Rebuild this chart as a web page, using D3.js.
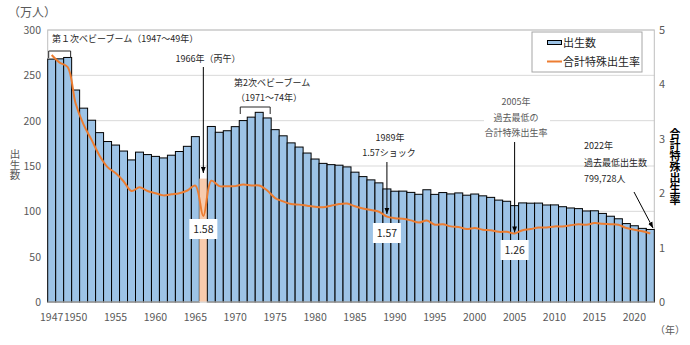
<!DOCTYPE html>
<html><head><meta charset="utf-8">
<script src="https://cdn.jsdelivr.net/npm/d3@7"></script>
<style>body{margin:0;background:#fff}svg{display:block;font-family:"Noto Sans CJK JP","Noto Sans",sans-serif}
.vt{writing-mode:vertical-rl;text-orientation:upright}</style>
</head><body><svg id="c" width="690" height="345"></svg>
<script>
const years = d3.range(1947, 2023);
const births = [267.9,268.2,269.7,233.8,213.8,200.5,186.8,177.0,173.1,166.5,
156.7,165.3,162.6,160.6,158.9,161.9,166.0,171.7,182.4,136.1,
193.6,187.2,188.9,193.4,200.1,203.9,209.2,203.0,190.1,183.3,
175.5,170.9,164.3,157.7,152.9,151.5,150.9,149.0,143.2,138.3,
134.7,131.4,124.7,122.2,122.3,120.9,118.8,123.8,118.7,120.7,
119.2,120.3,117.8,119.1,117.1,115.4,112.4,111.1,106.3,109.3,
109.0,109.1,107.0,107.1,105.1,103.7,103.0,100.4,100.6,97.7,
94.6,91.8,86.5,84.1,81.2,80.0];
const tfr = [4.54,4.40,4.32,3.65,3.26,2.98,2.69,2.48,2.37,2.22,
2.04,2.11,2.04,2.00,1.96,1.98,2.00,2.05,2.14,1.58,
2.23,2.13,2.13,2.13,2.16,2.14,2.14,2.05,1.91,1.85,
1.80,1.79,1.77,1.75,1.74,1.77,1.80,1.81,1.76,1.72,
1.69,1.66,1.57,1.54,1.53,1.50,1.46,1.50,1.42,1.43,
1.39,1.38,1.34,1.36,1.33,1.32,1.29,1.29,1.26,1.32,
1.34,1.37,1.37,1.39,1.39,1.41,1.43,1.42,1.45,1.44,
1.43,1.42,1.36,1.33,1.30,1.26];
const xTickYears = [1947,1950,1955,1960,1965,1970,1975,1980,1985,1990,1995,2000,2005,2010,2015,2020];
const leftTicks = [0,50,100,150,200,250,300];
const rightTicks = [0,1,2,3,4,5];
const highlightYear = 1966;

const svg = d3.select("#c");
const L = 47.7, R = 654.3, T = 30, B = 302;
const x = d3.scaleBand().domain(years).range([L, R]).padding(0);
const yL = d3.scaleLinear().domain([0,300]).range([B, T]);
const yR = d3.scaleLinear().domain([0,5]).range([B, T]);
const cx = yr => x(yr) + x.bandwidth()/2;

svg.append("defs").append("marker").attr("id","ah").attr("viewBox","0 0 10 10")
  .attr("refX",10).attr("refY",5).attr("markerWidth",6).attr("markerHeight",6)
  .attr("orient","auto-start-reverse").append("path").attr("d","M0,1L10,5L0,9z").attr("fill","#000");

svg.append("g").selectAll("line").data(leftTicks.filter(d=>d>0)).join("line")
  .attr("x1",L).attr("x2",R).attr("y1",d=>yL(d)).attr("y2",d=>yL(d))
  .attr("stroke","#d9d9d9").attr("stroke-width",1);
svg.append("rect").attr("x",L).attr("y",T).attr("width",R-L).attr("height",B-T)
  .attr("fill","none").attr("stroke","#bfbfbf");

svg.append("g").selectAll("rect").data(years).join("rect")
  .attr("x",d=>x(d)).attr("width",x.bandwidth())
  .attr("y",(d,i)=>yL(births[i])).attr("height",(d,i)=>B-yL(births[i]))
  .attr("fill",d=>d===highlightYear?"#f8cbad":"#9dc3e6")
  .attr("stroke",d=>d===highlightYear?"none":"#000").attr("stroke-width",1);

svg.append("line").attr("x1",L).attr("x2",R).attr("y1",B).attr("y2",B).attr("stroke","#d9d9d9");

const line = d3.line().x((d,i)=>cx(years[i])).y(d=>yR(d)).curve(d3.curveCatmullRom.alpha(0.5));
svg.append("path").datum(tfr).attr("d",line).attr("fill","none")
  .attr("stroke","#ed7d31").attr("stroke-width",2);

const tc = "#595959";
svg.append("g").selectAll("text").data(leftTicks).join("text")
  .attr("x",41).attr("y",d=>yL(d)+4).attr("text-anchor","end")
  .attr("font-size",10.5).attr("fill",tc).text(d=>d);
svg.append("g").selectAll("text").data(rightTicks).join("text")
  .attr("x",659).attr("y",d=>yR(d)+4).attr("text-anchor","start")
  .attr("font-size",11).attr("fill",tc).text(d=>d);
svg.append("g").selectAll("text").data(xTickYears).join("text")
  .attr("x",d=>cx(d)).attr("y",321).attr("text-anchor","middle")
  .attr("font-size",10.5).attr("fill",tc).text(d=>d);
svg.append("text").attr("x",670).attr("y",334).attr("text-anchor","middle")
  .attr("font-size",10).attr("fill",tc).text("（年）");
svg.append("text").attr("x",8).attr("y",17).attr("font-size",12).attr("fill",tc).text("（万人）");

// vertical titles
svg.append("text").attr("class","vt").attr("x",15).attr("y",165).attr("text-anchor","middle")
  .attr("font-size",10.5).attr("fill",tc).text("出生数");
svg.append("text").attr("class","vt").attr("x",675).attr("y",167).attr("text-anchor","middle")
  .attr("font-size",11).attr("font-weight","bold").attr("fill","#000").text("合計特殊出生率");

const lg = svg.append("g");
lg.append("rect").attr("x",532).attr("y",32).attr("width",110).attr("height",40).attr("fill","#fff").attr("stroke","#a6a6a6");
lg.append("rect").attr("x",547.5).attr("y",40.5).attr("width",14).attr("height",4).attr("fill","#9dc3e6").attr("stroke","#000");
lg.append("text").attr("x",563).attr("y",47).attr("font-size",11).attr("fill","#262626").text("出生数");
lg.append("line").attr("x1",547).attr("x2",562).attr("y1",61.5).attr("y2",61.5).attr("stroke","#ed7d31").attr("stroke-width",2);
lg.append("text").attr("x",563).attr("y",66).attr("font-size",11).attr("fill","#262626").text("合計特殊出生率");

const ac = "#262626";
function txt(s,x0,y0,opt={}){
  return svg.append("text").attr("x",x0).attr("y",y0).attr("font-size",opt.fs||9)
    .attr("fill",opt.c||ac).attr("text-anchor",opt.a||"start").text(s);
}
function arrow(x1,y1,x2,y2){
  svg.append("line").attr("x1",x1).attr("y1",y1).attr("x2",x2).attr("y2",y2)
    .attr("stroke","#000").attr("stroke-width",1).attr("marker-end","url(#ah)");
}
function bracket(yr1,yr2,y0,y1){
  const a = x(yr1)+1, b = x(yr2)+x.bandwidth()-1;
  svg.append("path").attr("d",`M${a},${y1}V${y0}H${b}V${y1}`).attr("fill","none").attr("stroke","#262626");
}
txt("第１次ベビーブーム（1947～49年）",52,42);
bracket(1947,1949,51,58);
txt("1966年（丙午）",208,62,{a:"middle"});
arrow(cx(1966),67,cx(1966),173);
txt("第2次ベビーブーム",234,86);
txt("（1971～74年）",236,101);
bracket(1971,1974,107,114);

txt("1989年",390,141,{a:"middle"});
txt("1.57ショック",389,156,{a:"middle"});
arrow(cx(1989),162,cx(1989),214);

svg.append("rect").attr("x",484).attr("y",110).attr("width",66).attr("height",30).attr("fill","#fff");
txt("2005年",516,105,{a:"middle",c:"#595959"});
txt("過去最低の",516,121,{a:"middle",c:"#595959"});
txt("合計特殊出生率",516,136,{a:"middle",c:"#595959"});
arrow(cx(2005),142,cx(2005),yR(1.26)-1);

txt("2022年",584,149);
txt("過去最低出生数",584,166);
txt("799,728人",584,182);
arrow(634,192,653,228);

function vbox(yr,val,y0){
  const c = cx(yr);
  svg.append("rect").attr("x",c-14).attr("y",y0).attr("width",28).attr("height",20).attr("fill","#fff");
  txt(val.toFixed(2),c,y0+14,{a:"middle",fs:10.5,c:"#262626"});
}
vbox(1966,tfr[years.indexOf(1966)],219);
vbox(1989,tfr[years.indexOf(1989)],223);
vbox(2005,tfr[years.indexOf(2005)],240);
</script></body></html>
